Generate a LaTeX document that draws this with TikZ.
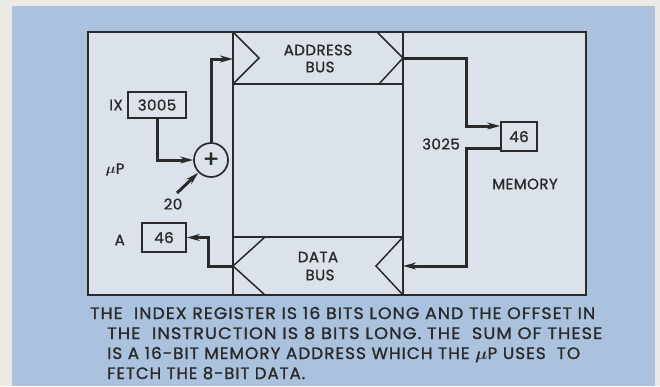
\documentclass[tikz,border=0pt]{standalone}
\usepackage{fontspec}
\setmainfont{Poppins}[FakeBold=1.2]
\usetikzlibrary{arrows.meta}
\definecolor{paper}{HTML}{ECEAE6}
\definecolor{panel}{HTML}{AAC2DD}
\definecolor{inner}{HTML}{DCE2EA}
\definecolor{ink}{HTML}{2A2A2A}
\newcommand{\lblfont}{\fontsize{15}{15}\selectfont\addfontfeatures{LetterSpace=3}}
\newcommand{\capfont}{\fontsize{16.5}{16.5}\selectfont\addfontfeatures{LetterSpace=6}}
\newcommand{\mymu}{\mbox{\boldmath$\mu$}}
\newcommand{\capline}[2]{\resizebox{#1pt}{\height}{#2}}
\tikzset{
  wire/.style={draw=ink, line width=3pt},
  arr/.style={wire, -{Stealth[length=13pt,width=7pt]}},
  frame/.style={draw=ink, line width=1.7pt},
  chev/.style={draw=ink, line width=1.5pt},
  regbox/.style={draw=ink, line width=1.7pt, fill=inner, inner sep=0pt, text=ink, font=\lblfont},
  lbl/.style={inner sep=0pt, text=ink, font=\lblfont},
  captext/.style={anchor=base west, inner sep=0pt, text=ink, font=\capfont}
}
\begin{document}
\begin{tikzpicture}[x=1pt,y=-1pt]
\useasboundingbox (0,0) rectangle (660,386);
\fill[paper] (0,0) rectangle (660,386);
\fill[panel] (12,6) rectangle (655,386);
% main frame
\filldraw[frame, fill=inner] (88,32) rectangle (586,295);
\draw[frame] (233,32) -- (233,295);
\draw[frame] (403,32) -- (403,295);
\draw[frame] (233,84) -- (403,84);
\draw[frame] (233,237) -- (403,237);
% chevrons
\draw[chev] (233,32) -- (259,58) -- (233,84);
\draw[chev] (377,32) -- (403,58) -- (379,84);
\draw[chev] (265,237) -- (233,266) -- (265,295);
\draw[chev] (403,237) -- (376,266) -- (403,295);
\coordinate (abl) at (233,59);
\coordinate (abr) at (403,58);
\coordinate (dbl) at (233,266);
\coordinate (dbr) at (403,266);
\coordinate (tw) at (177,193);
% texts in buses
\node[lbl] (addr) at (318,50) {ADDRESS};
\node[lbl] (abus) at (320,67) {BUS};
\node[lbl] (data) at (318,257) {DATA};
\node[lbl] (dbus) at (320,275) {BUS};
% registers
\node[regbox, minimum width=58pt, minimum height=26pt] (ix) at (157,105) {3005};
\node[lbl, anchor=east] (ixl) at (123,105) {IX};
\node[regbox, minimum width=44pt, minimum height=29pt] (a) at (164,237.5) {46};
\node[lbl, anchor=east] (al) at (125,240) {A};
\node[draw=ink, line width=1.7pt, fill=inner, circle, minimum size=34pt, inner sep=0pt, text=ink, font=\fontsize{24}{24}\selectfont] (add) at (211,160) {+};
\node[lbl] (mup) at (115,170) {\mymu P};
\node[lbl] (twenty) at (173,204) {20};
\node[regbox, minimum width=36pt, minimum height=29pt] (mem) at (519,136.5) {46};
\node[lbl] (addrv) at (441,144) {3025};
\node[lbl] (memory) at (525,184) {MEMORY};
% wires
\draw[arr] (ix.south) |- (add.west);
\draw[arr] (add.north) |- (abl);
\draw[arr] (tw) -- (add.225);
\draw[arr] (dbl) -- (208,266) |- (a.east);
\draw[arr] (abr) -| (466,126) -- (mem.west |- 0,126);
\draw[arr] (mem.west |- 0,148) -| (466,266) -- (dbr);
% caption
\node[captext] (c1) at (90,319) {\capline{505}{THE\ \ INDEX REGISTER IS 16 BITS LONG AND THE OFFSET IN}};
\node[captext] (c2) at (107,339) {\capline{495}{THE\ \ INSTRUCTION IS 8 BITS LONG. THE\ \ SUM OF THESE}};
\node[captext] (c3) at (107,359) {\capline{473}{IS A 16-BIT MEMORY ADDRESS WHICH THE \mymu P USES\ \ TO}};
\node[captext] (c4) at (107,379) {\capline{198}{FETCH THE 8-BIT DATA.}};
\end{tikzpicture}
\end{document}
